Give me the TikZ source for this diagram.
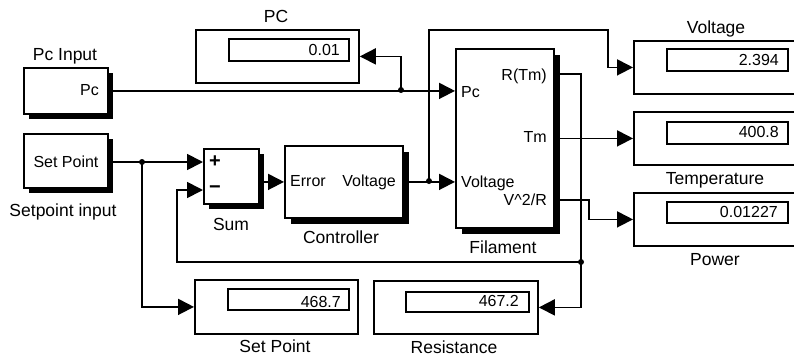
\documentclass[tikz,border=0pt]{standalone}
\usepackage{fontspec}
\setmainfont{Liberation Sans}
\usetikzlibrary{arrows.meta,shadows}
\begin{document}
\begin{tikzpicture}[x=1pt,y=-1pt,
  blk/.style={draw=black, fill=white, line width=1.8pt, inner sep=0pt, anchor=north west},
  shblk/.style={blk, drop shadow={shadow xshift=5pt, shadow yshift=-5pt, fill=black, opacity=1}},
  shblkb/.style={blk, drop shadow={shadow xshift=6pt, shadow yshift=-6pt, fill=black, opacity=1}},
  inbox/.style={draw=black, line width=1.6pt, inner sep=0pt, anchor=north west},
  lbl/.style={font=\fontsize{17.5}{20}\selectfont, anchor=base, inner sep=0pt},
  ptl/.style={font=\fontsize{16}{19}\selectfont, anchor=base west, inner sep=0pt},
  ptr/.style={font=\fontsize{16}{19}\selectfont, anchor=base east, inner sep=0pt},
  sgn/.style={font=\fontsize{20}{22}\selectfont\bfseries, inner sep=0pt},
  wire/.style={line width=1.8pt},
  arr/.style={wire, -{Triangle[length=16pt,width=16pt]}},
  jdot/.style={circle, fill=black, inner sep=0pt, minimum size=6pt}
]
\useasboundingbox (0,0) rectangle (794,359);
\clip (0,0) rectangle (794,359);

% ---------- blocks with shadow ----------
\node[shblk, minimum width=84pt, minimum height=46pt] (pcin) at (23,67) {};
\node[shblk, minimum width=84pt, minimum height=54pt] (spin) at (23,133) {};
\node[shblk, minimum width=55pt, minimum height=55pt] (sum) at (203,148) {};
\node[shblkb, minimum width=118pt, minimum height=72pt] (ctrl) at (284,145) {};
\node[shblkb, minimum width=98pt, minimum height=179pt] (fil) at (455,48) {};

% ---------- displays ----------
\node[blk, minimum width=163pt, minimum height=53pt] (pcdisp) at (195,29) {};
\node[inbox, minimum width=120pt, minimum height=22pt] (pcval) at (228,38) {};
\node[blk, minimum width=166pt, minimum height=53pt] (vdisp) at (633,40) {};
\node[inbox, minimum width=121pt, minimum height=22pt] (vval) at (666,48) {};
\node[blk, minimum width=166pt, minimum height=53pt] (tdisp) at (633,111) {};
\node[inbox, minimum width=121pt, minimum height=22pt] (tval) at (666,121) {};
\node[blk, minimum width=166pt, minimum height=53pt] (pdisp) at (633,192) {};
\node[inbox, minimum width=121pt, minimum height=21pt] (pval) at (666,201) {};
\node[blk, minimum width=164pt, minimum height=53pt] (rdisp) at (373,280) {};
\node[inbox, minimum width=123pt, minimum height=20pt] (rval) at (405,291) {};
\node[blk, minimum width=163pt, minimum height=54pt] (spdisp) at (194,279) {};
\node[inbox, minimum width=121pt, minimum height=21pt] (spval) at (227,288) {};

% ---------- texts ----------
\node[lbl] (tPC) at (276,22) {PC};
\node[lbl] (tPcInput) at (65,60) {Pc Input};
\node[ptr] (tPc) at (99,95) {Pc};
\node[lbl, font=\fontsize{16}{19}\selectfont] (tSetPt) at (66,167) {Set Point};
\node[lbl] (tSetIn) at (63,216) {Setpoint input};
\node[sgn] (plus) at (215,162) {+};
\node[sgn] (minus) at (215,190) {−};
\node[lbl] (tSum) at (231,230) {Sum};
\node[ptl] (tErr) at (290,186) {Error};
\node[ptr] (tCV) at (396,186) {Voltage};
\node[lbl] (tCtrl) at (341,243) {Controller};
\node[ptl] (tFPc) at (461,97) {Pc};
\node[ptl] (tFV) at (461,187) {Voltage};
\node[ptr] (tRTm) at (547,80) {R(Tm)};
\node[ptr] (tTm) at (547,142) {Tm};
\node[ptr] (tV2R) at (547,205) {V\textasciicircum 2/R};
\node[lbl] (tFil) at (503,253) {Filament};
\node[lbl] (tVolt) at (716,33) {Voltage};
\node[lbl] (tTemp) at (715,184) {Temperature};
\node[lbl] (tPow) at (715,265) {Power};
\node[lbl] (tRes) at (454,353) {Resistance};
\node[lbl] (tSPd) at (275,352) {Set Point};
\node[ptr] (nPC) at (340,55) {0.01};
\node[ptr] (nV) at (779,65) {2.394};
\node[ptr] (nT) at (779,137) {400.8};
\node[ptr] (nP) at (778,217) {0.01227};
\node[ptr] (nR) at (519,306) {467.2};
\node[ptr] (nSP) at (341,307) {468.7};

% ---------- junctions / bends ----------
\coordinate (j1) at (401,90);
\coordinate (j2) at (142,162);
\coordinate (j3) at (429,181);
\coordinate (j4) at (581,262);
\coordinate (tv) at (608,30);
\coordinate (prtm) at (553,74);
\coordinate (bend) at (581,74);
\coordinate (pv2r) at (553,200);
\coordinate (tp) at (589,200);
\coordinate (fb) at (177,262);

% ---------- connectors ----------
\draw[arr] (pcin.east) -- (fil.west |- pcin.east);
\draw[arr] (j1) |- (pcdisp.east);
\draw[arr] (spin.east |- j2) -- (sum.west |- plus);
\draw[arr] (j2) |- (spdisp.west);
\draw[arr] (sum.east |- ctrl.west) -- (ctrl.west);
\draw[arr] (ctrl.east) -- (fil.west |- ctrl.east);
\draw[arr] (j3) |- (tv) |- (vdisp.west);
\draw[arr] (prtm) -- (bend) -- (j4) |- (rdisp.east);
\draw[arr] (j4) -- (fb) |- (sum.west |- minus);
\draw[arr] (fil.east |- tdisp.west) -- (tdisp.west);
\draw[arr] (pv2r) -- (tp) |- (pdisp.west);

\node[jdot] (d1) at (j1) {};
\node[jdot] (d2) at (j2) {};
\node[jdot] (d3) at (j3) {};
\node[jdot] (d4) at (j4) {};
\end{tikzpicture}
\end{document}
